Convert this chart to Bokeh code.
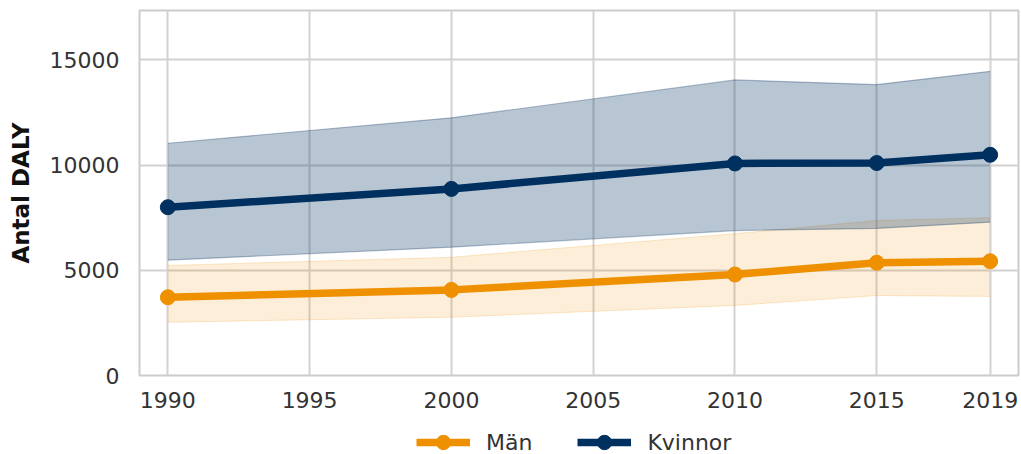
from bokeh.plotting import figure
from bokeh.layouts import column
from bokeh.models import ColumnDataSource, FixedTicker, Legend, LegendItem, Range1d
from bokeh.embed import file_html
from bokeh.resources import INLINE

# DALY estimates with uncertainty intervals, by sex
years = [1990, 2000, 2010, 2015, 2019]

kvinnor = [8000, 8870, 10080, 10100, 10490]
kvinnor_low = [5480, 6100, 6890, 6990, 7290]
kvinnor_high = [11040, 12250, 14050, 13830, 14460]

man = [3720, 4070, 4800, 5360, 5430]
man_low = [2530, 2770, 3330, 3800, 3760]
man_high = [5230, 5620, 6740, 7370, 7500]

x_ticks = [1990, 1995, 2000, 2005, 2010, 2015, 2019]
y_ticks = [0, 5000, 10000, 15000]

NAVY = "#00305f"
ORANGE = "#ee9000"
FONT = "DejaVu Sans"
TEXT = "#333333"
GRID = "#d2d2d2"

src_k = ColumnDataSource(dict(x=years, y=kvinnor, lo=kvinnor_low, hi=kvinnor_high))
src_m = ColumnDataSource(dict(x=years, y=man, lo=man_low, hi=man_high))

p = figure(frame_width=879, frame_height=365, output_backend="svg", toolbar_location=None,
           x_range=Range1d(1989, 2020), y_range=Range1d(0, 17350),
           min_border_left=139, min_border_right=3, min_border_top=10,
           min_border_bottom=43)

# uncertainty bands
p.varea(x="x", y1="lo", y2="hi", source=src_m, fill_color=ORANGE, fill_alpha=0.15)
p.line(x="x", y="hi", source=src_m, line_color=ORANGE, line_alpha=0.2, line_width=1)
p.line(x="x", y="lo", source=src_m, line_color=ORANGE, line_alpha=0.2, line_width=1)

p.varea(x="x", y1="lo", y2="hi", source=src_k, fill_color=NAVY, fill_alpha=0.28)
p.line(x="x", y="hi", source=src_k, line_color=NAVY, line_alpha=0.3, line_width=1.2)
p.line(x="x", y="lo", source=src_k, line_color=NAVY, line_alpha=0.3, line_width=1.2)

# central estimates
p.line(x="x", y="y", source=src_m, line_color=ORANGE, line_width=7.5)
p.scatter(x="x", y="y", source=src_m, size=15, fill_color=ORANGE, line_color=ORANGE)
p.line(x="x", y="y", source=src_k, line_color=NAVY, line_width=7.5)
p.scatter(x="x", y="y", source=src_k, size=15, fill_color=NAVY, line_color=NAVY)

# axes
p.xaxis.ticker = FixedTicker(ticks=x_ticks)
p.yaxis.ticker = FixedTicker(ticks=y_ticks)
for ax in (p.xaxis[0], p.yaxis[0]):
    ax.axis_line_color = None
    ax.major_tick_line_color = None
    ax.minor_tick_line_color = None
    ax.major_tick_out = 0
    ax.major_tick_in = 0
    ax.major_label_text_font = FONT
    ax.major_label_text_font_size = "22px"
    ax.major_label_text_color = TEXT
p.xaxis.major_label_standoff = 16
p.yaxis.major_label_standoff = 20
p.yaxis.axis_label = "Antal DALY"
p.yaxis.axis_label_text_font = FONT
p.yaxis.axis_label_text_font_size = "23px"
p.yaxis.axis_label_text_font_style = "bold"
p.yaxis.axis_label_text_color = "#111111"
p.yaxis.axis_label_standoff = 13

p.xgrid.grid_line_color = GRID
p.ygrid.grid_line_color = GRID
p.xgrid.grid_line_width = 2
p.ygrid.grid_line_width = 2
p.outline_line_color = "#cccccc"
p.outline_line_width = 2
p.background_fill_color = "white"
p.border_fill_color = "white"

# legend strip underneath the chart; its swatch renderers sit outside the view
leg = figure(frame_width=879, frame_height=36, output_backend="svg", toolbar_location=None,
             x_range=Range1d(0, 1), y_range=Range1d(0, 1),
             min_border_left=139, min_border_right=3, min_border_top=0,
             min_border_bottom=0)
leg.axis.visible = False
leg.grid.visible = False
leg.outline_line_color = None
offscreen = ColumnDataSource(dict(x=[-10, -11], y=[-10, -11]))
klm = leg.line(x="x", y="y", source=offscreen, line_color=ORANGE, line_width=7.5)
kcm = leg.scatter(x="x", y="y", source=offscreen, size=15, fill_color=ORANGE, line_color=ORANGE)
klk = leg.line(x="x", y="y", source=offscreen, line_color=NAVY, line_width=7.5)
kck = leg.scatter(x="x", y="y", source=offscreen, size=15, fill_color=NAVY, line_color=NAVY)

legend = Legend(items=[LegendItem(label="Män", renderers=[klm, kcm]),
                       LegendItem(label="Kvinnor", renderers=[klk, kck])],
                orientation="horizontal", location=(277, -6),
                glyph_width=54, glyph_height=36, label_standoff=16, spacing=45,
                padding=0, margin=0, border_line_color=None,
                background_fill_alpha=0,
                label_text_font=FONT, label_text_font_size="22px",
                label_text_color=TEXT)
leg.add_layout(legend, "center")

layout = column(p, leg, spacing=0)
open("out.html", "w").write(file_html(layout, INLINE))
